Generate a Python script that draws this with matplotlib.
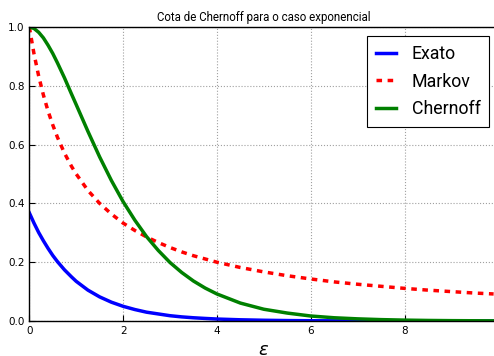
import matplotlib
matplotlib.use("Agg")
import matplotlib.pyplot as plt

# epsilon values and bounds
eps = [0, 0.1, 0.2, 0.3, 0.4, 0.5, 0.6, 0.75, 0.9, 1, 1.25, 1.5, 1.75, 2, 2.25,
       2.5, 2.75, 3, 3.25, 3.5, 3.75, 4, 4.5, 5, 5.5, 6, 6.5, 7, 7.5, 8, 8.5,
       9, 9.5, 9.9]
exato = [0.368, 0.333, 0.301, 0.273, 0.247, 0.223, 0.202, 0.174, 0.150, 0.135,
         0.105, 0.082, 0.064, 0.050, 0.039, 0.030, 0.024, 0.018, 0.014, 0.011,
         0.0087, 0.0067, 0.0041, 0.0025, 0.0015, 0.0009, 0.0006, 0.0003,
         0.0002, 0.0001, 0.00008, 0.00005, 0.00003, 0.00002]
markov = [1.0, 0.909, 0.833, 0.769, 0.714, 0.667, 0.625, 0.571, 0.526, 0.5,
          0.444, 0.4, 0.364, 0.333, 0.308, 0.286, 0.267, 0.25, 0.235, 0.222,
          0.211, 0.2, 0.182, 0.167, 0.154, 0.143, 0.133, 0.125, 0.118, 0.111,
          0.105, 0.1, 0.095, 0.092]
chernoff = [1.0, 0.995, 0.982, 0.963, 0.938, 0.910, 0.878, 0.827, 0.772, 0.736,
            0.645, 0.558, 0.478, 0.406, 0.343, 0.287, 0.240, 0.199, 0.165,
            0.136, 0.112, 0.092, 0.061, 0.040, 0.027, 0.017, 0.011, 0.0073,
            0.0047, 0.0030, 0.0019, 0.0012, 0.0008, 0.0005]

fig = plt.figure(figsize=(4.94, 3.56), dpi=100)
# axes runs a few pixels past the right edge, as in the cropped original
ax = fig.add_axes([29.3 / 494, 35 / 356, 469 / 494, 294 / 356])

ax.plot(eps, exato, color="blue", lw=2.5, label="Exato")
ax.plot(eps, markov, color="red", lw=2.5, ls="--", dashes=(1.6, 1.6), label="Markov")
ax.plot(eps, chernoff, color="green", lw=2.5, label="Chernoff")

ax.set_xlim(0, 10)
ax.set_ylim(0, 1.0)
ax.set_xticks([0, 2, 4, 6, 8])
ax.set_yticks([0.0, 0.2, 0.4, 0.6, 0.8, 1.0])
ax.tick_params(direction="in", labelsize=7.5, length=4)
ax.grid(True, color="#a0a0a0", ls=":", lw=0.8)
for s in ax.spines.values():
    s.set_linewidth(1.0)

ax.set_title("Cota de Chernoff para o caso exponencial", fontsize=8.3,
             family="Roboto", pad=4.5)
ax.set_xlabel(r"$\epsilon$", fontsize=13)
leg = ax.legend(loc="upper right", prop={"family": "Roboto", "size": 12.8},
                fancybox=False, edgecolor="black", framealpha=1,
                labelspacing=0.55, handlelength=1.15, handletextpad=0.85,
                borderpad=0.5)
leg.get_frame().set_linewidth(0.8)

fig.savefig("out.png", dpi=100)
